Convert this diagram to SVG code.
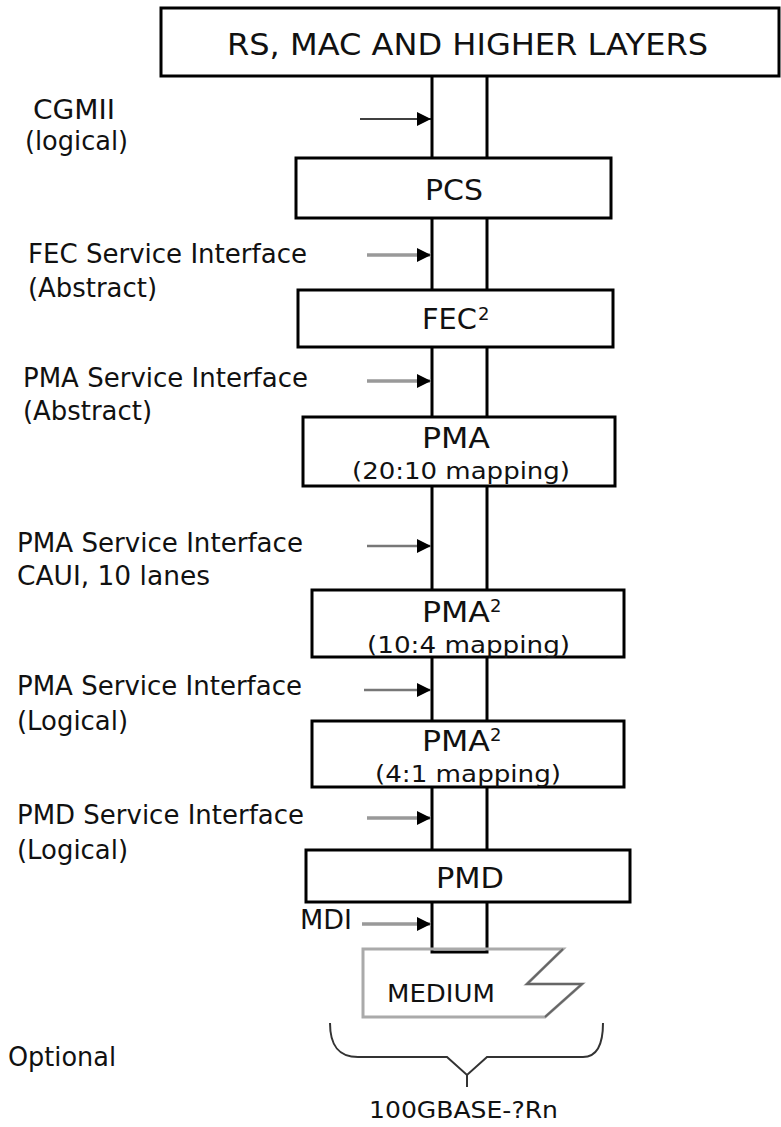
<svg xmlns="http://www.w3.org/2000/svg" width="781" height="1127" viewBox="0 0 781 1127">
<style>
text{font-family:"DejaVu Sans","Liberation Sans",sans-serif;fill:#111}
.lbl{font-size:26px}
.box{fill:#fff;stroke:#000;stroke-width:3}
.big{font-size:29px}
.sub{font-size:23px}
.sup{font-size:18px}
.ch{fill:none;stroke:#000;stroke-width:3}
.arr{fill:none;stroke:#999;stroke-width:3.5}
.arrk{fill:none;stroke:#000;stroke-width:1.5}
.arrd{fill:none;stroke:#777;stroke-width:2.5}
.med{fill:none;stroke:#aaa;stroke-width:3}
.brace{fill:none;stroke:#333;stroke-width:2}
</style>
<defs>
<marker id="ah" markerUnits="userSpaceOnUse" markerWidth="15" markerHeight="14" refX="14" refY="7" orient="auto">
<path d="M0,0 L14,7 L0,14 z" fill="#000"/>
</marker>
</defs>
<g id="connectors">
<path class="ch" d="M432,76 V952 H487 V76"/>
<line class="arrk" x1="360" y1="119" x2="431" y2="119" marker-end="url(#ah)"/>
<line class="arr" x1="367" y1="255" x2="431" y2="255" marker-end="url(#ah)"/>
<line class="arr" x1="367" y1="381" x2="431" y2="381" marker-end="url(#ah)"/>
<line class="arrd" x1="367" y1="546" x2="431" y2="546" marker-end="url(#ah)"/>
<line class="arrd" x1="364" y1="690" x2="431" y2="690" marker-end="url(#ah)"/>
<line class="arr" x1="367" y1="818" x2="431" y2="818" marker-end="url(#ah)"/>
<line class="arr" x1="362" y1="924" x2="431" y2="924" marker-end="url(#ah)"/>
</g>
<g id="rs">
<rect class="box" x="161" y="8" width="618" height="68"/>
<text x="227" y="55" font-size="31" textLength="481" lengthAdjust="spacingAndGlyphs">RS, MAC AND HIGHER LAYERS</text>
</g>
<g id="pcs">
<rect class="box" x="296" y="158" width="315" height="60"/>
<text class="big" x="425" y="200" textLength="58" lengthAdjust="spacingAndGlyphs">PCS</text>
</g>
<g id="fec">
<rect class="box" x="298" y="290" width="315" height="57"/>
<text class="big" x="422" y="329" textLength="55" lengthAdjust="spacingAndGlyphs">FEC</text>
<text class="sup" x="478" y="320">2</text>
</g>
<g id="pma1">
<rect class="box" x="303" y="417" width="312" height="69"/>
<text class="big" x="422" y="448" textLength="68" lengthAdjust="spacingAndGlyphs">PMA</text>
<text class="sub" x="352" y="479" textLength="218" lengthAdjust="spacingAndGlyphs">(20:10 mapping)</text>
</g>
<g id="pma2">
<rect class="box" x="312" y="590" width="312" height="67"/>
<text class="big" x="422" y="622" textLength="68" lengthAdjust="spacingAndGlyphs">PMA</text>
<text class="sup" x="490" y="612">2</text>
<text class="sub" x="367" y="653" textLength="203" lengthAdjust="spacingAndGlyphs">(10:4 mapping)</text>
</g>
<g id="pma3">
<rect class="box" x="312" y="721" width="312" height="66"/>
<text class="big" x="422" y="751" textLength="68" lengthAdjust="spacingAndGlyphs">PMA</text>
<text class="sup" x="490" y="741">2</text>
<text class="sub" x="375" y="782" textLength="186" lengthAdjust="spacingAndGlyphs">(4:1 mapping)</text>
</g>
<g id="pmd">
<rect class="box" x="306" y="850" width="324" height="52"/>
<text class="big" x="436" y="888" textLength="68" lengthAdjust="spacingAndGlyphs">PMD</text>
</g>
<g id="medium">
<polygon class="med" points="363,949 563,949 527,984 582,984 545,1017 363,1017"/>
<path d="M563,949 L527,984 H582 L545,1017" fill="none" stroke="#666" stroke-width="2"/>
<text x="387" y="1002" font-size="25" textLength="108" lengthAdjust="spacingAndGlyphs">MEDIUM</text>
</g>
<g id="brace">
<path class="brace" d="M330,1023 C330,1045 338,1057 358,1057 H447 L467,1075 L487,1057 H583 C597,1057 603,1045 603,1023 M467,1075 V1087"/>
</g>
<g id="labels">
<text class="lbl" x="33" y="119" textLength="82" lengthAdjust="spacingAndGlyphs">CGMII</text>
<text class="lbl" x="25" y="150" textLength="103" lengthAdjust="spacingAndGlyphs">(logical)</text>
<text class="lbl" x="28" y="263" textLength="279" lengthAdjust="spacingAndGlyphs">FEC Service Interface</text>
<text class="lbl" x="28" y="297" textLength="129" lengthAdjust="spacingAndGlyphs">(Abstract)</text>
<text class="lbl" x="23" y="387" textLength="285" lengthAdjust="spacingAndGlyphs">PMA Service Interface</text>
<text class="lbl" x="23" y="420" textLength="129" lengthAdjust="spacingAndGlyphs">(Abstract)</text>
<text class="lbl" x="17" y="552" textLength="286" lengthAdjust="spacingAndGlyphs">PMA Service Interface</text>
<text class="lbl" x="17" y="585" textLength="193" lengthAdjust="spacingAndGlyphs">CAUI, 10 lanes</text>
<text class="lbl" x="17" y="695" textLength="285" lengthAdjust="spacingAndGlyphs">PMA Service Interface</text>
<text class="lbl" x="17" y="730" textLength="111" lengthAdjust="spacingAndGlyphs">(Logical)</text>
<text class="lbl" x="17" y="824" textLength="287" lengthAdjust="spacingAndGlyphs">PMD Service Interface</text>
<text class="lbl" x="17" y="859" textLength="111" lengthAdjust="spacingAndGlyphs">(Logical)</text>
<text class="lbl" x="300" y="929" textLength="52" lengthAdjust="spacingAndGlyphs">MDI</text>
<text class="lbl" x="8" y="1066" textLength="108" lengthAdjust="spacingAndGlyphs">Optional</text>
<text x="369" y="1118" font-size="23" textLength="189" lengthAdjust="spacingAndGlyphs">100GBASE-?Rn</text>
</g>
</svg>
